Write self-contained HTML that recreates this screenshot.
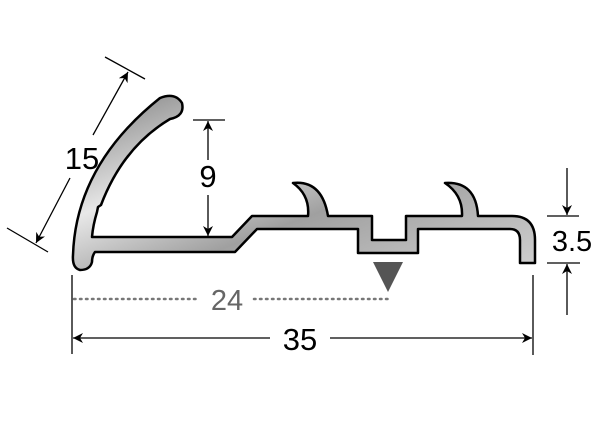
<!DOCTYPE html>
<html><head><meta charset="utf-8"><style>
html,body{margin:0;padding:0;background:#fff;}
svg{display:block;}
text{font-family:"Liberation Sans",sans-serif;}
</style></head><body>
<svg width="600" height="446" viewBox="0 0 600 446" xmlns="http://www.w3.org/2000/svg">
<defs>
<linearGradient id="g" x1="0" y1="0" x2="1" y2="1">
<stop offset="0" stop-color="#7d7d7d"/>
<stop offset="0.35" stop-color="#e8e8e8"/>
<stop offset="0.6" stop-color="#a0a0a0"/>
<stop offset="1" stop-color="#d0d0d0"/>
</linearGradient>
<marker id="a" viewBox="0 0 10 10" refX="10" refY="5" markerWidth="10" markerHeight="10" markerUnits="userSpaceOnUse" orient="auto">
<path d="M0,0 L10,5 L0,10 L3,5 Z" fill="#000"/>
</marker>
</defs>
<path d="M160,98 Q175,92 182,103 Q185,116 170,119 Q123,147 101,205 L98,207 L97,212 Q93,225 92,237 L232,237 L252,216 L308,216 Q310,195 293,183 Q322,180 328,216 L372,216 L372,240 L406,240 L406,216 L462,216 Q463,195 445,183 Q476,181 478,216 L512,216 Q535,216 535,240 L535,263 L520,263 L520,240 Q520,229 510,229 L418,229 L418,253 L358,253 L358,229 L257,229 L235,252 L95,252 Q92,256 92,262 Q90,270 80,270 Q72,268 73,255 Q76,165 160,98 Z" fill="url(#g)" stroke="#000" stroke-width="2.5" stroke-linejoin="round"/>
<g stroke="#000" stroke-width="1.3" fill="none">
<line x1="105" y1="57" x2="145" y2="79"/>
<line x1="7" y1="228" x2="48" y2="252"/>
<line x1="93" y1="135" x2="128" y2="72" marker-end="url(#a)"/>
<line x1="70" y1="178" x2="36" y2="243" marker-end="url(#a)"/>
<line x1="193" y1="120" x2="225" y2="120"/>
<line x1="208" y1="160" x2="208" y2="121" marker-end="url(#a)"/>
<line x1="208" y1="195" x2="208" y2="236" marker-end="url(#a)"/>
<line x1="72" y1="275" x2="72" y2="354"/>
<line x1="533" y1="275" x2="533" y2="355"/>
<line x1="270" y1="338" x2="73" y2="338" marker-end="url(#a)"/>
<line x1="330" y1="338" x2="532" y2="338" marker-end="url(#a)"/>
<line x1="547" y1="216" x2="579" y2="216"/>
<line x1="547" y1="263" x2="580" y2="263"/>
<line x1="567" y1="168" x2="567" y2="215" marker-end="url(#a)"/>
<line x1="567" y1="315" x2="567" y2="264" marker-end="url(#a)"/>
</g>
<line x1="74" y1="299" x2="200" y2="299" stroke="#777" stroke-width="2.5" stroke-dasharray="1.5,4.5" stroke-linecap="round"/>
<line x1="254" y1="299" x2="388" y2="299" stroke="#777" stroke-width="2.5" stroke-dasharray="1.5,4.5" stroke-linecap="round"/>
<polygon points="373,262 403,262 388,292" fill="#555"/>
<text x="82" y="169" font-size="31" text-anchor="middle">15</text>
<text x="208" y="187" font-size="31" text-anchor="middle">9</text>
<text x="227" y="310" font-size="29" text-anchor="middle" fill="#666">24</text>
<text x="300" y="350" font-size="31" text-anchor="middle">35</text>
<text x="572" y="251" font-size="29" text-anchor="middle">3.5</text>
</svg>
</body></html>
